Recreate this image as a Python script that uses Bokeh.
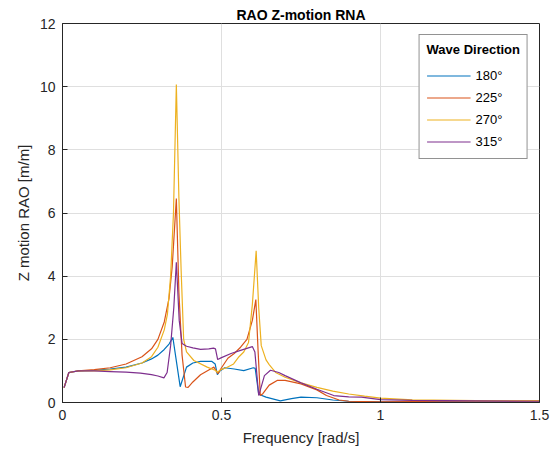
from bokeh.plotting import figure
from bokeh.models import Range1d, FixedTicker, NumeralTickFormatter, Legend, LegendItem
from bokeh.embed import file_html
from bokeh.resources import INLINE

# ---- data ----
f_180 = [0.005, 0.02, 0.05, 0.10, 0.15, 0.20, 0.25, 0.28, 0.30, 0.32, 0.335, 0.347,
         0.370, 0.390, 0.410, 0.434, 0.470, 0.480, 0.487, 0.495, 0.510, 0.540, 0.570,
         0.600, 0.606, 0.617, 0.640, 0.685, 0.720, 0.750, 0.800, 0.850, 0.900, 1.00,
         1.20, 1.50]
v_180 = [0.47, 0.95, 1.00, 1.02, 1.06, 1.12, 1.25, 1.38, 1.50, 1.68, 1.85, 2.06,
         0.50, 1.12, 1.25, 1.30, 1.30, 1.22, 0.88, 1.00, 1.10, 1.06, 1.01,
         1.10, 1.08, 0.26, 0.17, 0.05, 0.12, 0.17, 0.15, 0.08, 0.04, 0.02,
         0.02, 0.01]

f_225 = [0.005, 0.02, 0.05, 0.10, 0.15, 0.20, 0.25, 0.28, 0.30, 0.32, 0.335, 0.345,
         0.358, 0.366, 0.376, 0.387, 0.395, 0.410, 0.434, 0.460, 0.476, 0.489, 0.500,
         0.520, 0.540, 0.560, 0.580, 0.597, 0.608, 0.615, 0.622, 0.630, 0.650, 0.675,
         0.700, 0.750, 0.800, 0.830, 0.870, 0.900, 1.00, 1.20, 1.50]
v_225 = [0.47, 0.95, 1.00, 1.04, 1.10, 1.22, 1.45, 1.70, 2.00, 2.55, 3.30, 4.30,
         6.46, 3.50, 1.50, 0.49, 0.48, 0.65, 0.88, 1.03, 1.12, 0.91, 1.10,
         1.40, 1.55, 1.75, 2.00, 2.60, 3.26, 1.65, 0.22, 0.28, 0.55, 0.70,
         0.70, 0.59, 0.40, 0.22, 0.08, 0.04, 0.02, 0.04, 0.05]

f_270 = [0.005, 0.02, 0.05, 0.10, 0.15, 0.20, 0.25, 0.28, 0.30, 0.32, 0.33, 0.34,
         0.349, 0.358, 0.366, 0.373, 0.381, 0.390, 0.413, 0.455, 0.480, 0.487, 0.500,
         0.515, 0.538, 0.555, 0.570, 0.585, 0.597, 0.609, 0.617, 0.625, 0.640, 0.650,
         0.670, 0.700, 0.750, 0.800, 0.850, 0.900, 0.950, 1.00, 1.10, 1.30, 1.50]
v_270 = [0.47, 0.95, 1.00, 1.00, 1.03, 1.10, 1.25, 1.45, 1.75, 2.30, 2.80, 4.00,
         6.00, 10.07, 6.50, 4.20, 2.00, 1.60, 1.33, 1.12, 1.02, 0.96, 1.05,
         1.10, 1.22, 1.45, 1.60, 1.90, 3.10, 4.80, 3.00, 1.80, 1.35, 1.20,
         0.95, 0.80, 0.62, 0.48, 0.36, 0.27, 0.20, 0.14, 0.08, 0.06, 0.05]

f_315 = [0.005, 0.02, 0.05, 0.10, 0.15, 0.20, 0.245, 0.28, 0.30, 0.319, 0.329, 0.340,
         0.350, 0.358, 0.367, 0.376, 0.390, 0.410, 0.434, 0.460, 0.475, 0.481, 0.488,
         0.500, 0.530, 0.560, 0.597, 0.605, 0.617, 0.635, 0.654, 0.680, 0.700, 0.750,
         0.800, 0.853, 0.900, 0.940, 1.00, 1.10, 1.30, 1.50]
v_315 = [0.47, 0.95, 1.00, 1.00, 0.98, 0.96, 0.93, 0.88, 0.84, 0.78, 0.95, 1.80,
         3.00, 4.44, 2.60, 1.87, 1.78, 1.73, 1.68, 1.70, 1.72, 1.70, 1.36,
         1.42, 1.55, 1.65, 1.77, 1.60, 0.22, 0.85, 1.02, 0.95, 0.85, 0.62,
         0.42, 0.22, 0.18, 0.17, 0.09, 0.07, 0.05, 0.04]

series_labels = ["180°", "225°", "270°", "315°"]
series_colors = ["#0072BD", "#D95319", "#EDB120", "#7E2F8E"]

xtick_vals = [0, 0.5, 1, 1.5]
ytick_vals = [0, 2, 4, 6, 8, 10, 12]

FONT = "Liberation Sans"
TXT = "#262626"

p = figure(width=557, height=453, output_backend="svg", toolbar_location=None,
           x_range=Range1d(0, 1.5), y_range=Range1d(0, 12),
           min_border_left=62, min_border_right=18, min_border_top=23,
           min_border_bottom=51)

p.title.text = "RAO Z-motion RNA"
p.title.align = "center"
p.title.text_font = FONT
p.title.text_font_size = "14px"
p.title.text_font_style = "bold"
p.title.text_color = "black"
p.title.standoff = 2

p.xaxis.ticker = FixedTicker(ticks=xtick_vals)
p.yaxis.ticker = FixedTicker(ticks=ytick_vals)
p.xaxis.formatter = NumeralTickFormatter(format="0.[0]")
p.xaxis.axis_label = "Frequency [rad/s]"
p.yaxis.axis_label = "Z motion RAO [m/m]"
for ax in (p.xaxis[0], p.yaxis[0]):
    ax.axis_label_text_font = FONT
    ax.axis_label_text_font_size = "15px"
    ax.axis_label_text_font_style = "normal"
    ax.axis_label_text_color = TXT
    ax.major_label_text_font = FONT
    ax.major_label_text_font_size = "14px"
    ax.major_label_text_color = TXT
    ax.axis_line_color = TXT
    ax.major_tick_line_color = TXT
    ax.major_tick_in = 5
    ax.major_tick_out = 0
    ax.minor_tick_line_color = None
    ax.major_label_standoff = 7
p.xaxis.axis_label_standoff = 6
p.yaxis.axis_label_standoff = 5

p.grid.grid_line_color = "#dfdfdf"
p.grid.grid_line_width = 1
p.outline_line_color = TXT
p.outline_line_alpha = 1
p.background_fill_color = "white"
p.border_fill_color = "white"

items = []
for fx, vy, lab, col in zip([f_180, f_225, f_270, f_315],
                            [v_180, v_225, v_270, v_315],
                            series_labels, series_colors):
    r = p.line(fx, vy, line_color=col, line_width=1.2)
    items.append(LegendItem(label=lab, renderers=[r]))

legend = Legend(items=items, location="top_right", title="Wave Direction")
legend.title_text_font = FONT
legend.title_text_font_style = "bold"
legend.title_text_font_size = "13px"
legend.title_text_color = "black"
legend.title_standoff = 8
legend.label_text_font = FONT
legend.label_text_font_size = "13px"
legend.label_text_color = "black"
legend.glyph_width = 44
legend.label_standoff = 5
legend.spacing = 2
legend.label_height = 20
legend.glyph_height = 19
legend.padding = 7
legend.margin = 11
legend.border_line_color = TXT
legend.border_line_width = 1
legend.background_fill_alpha = 1
p.add_layout(legend)

open("out.html", "w").write(file_html(p, INLINE))
